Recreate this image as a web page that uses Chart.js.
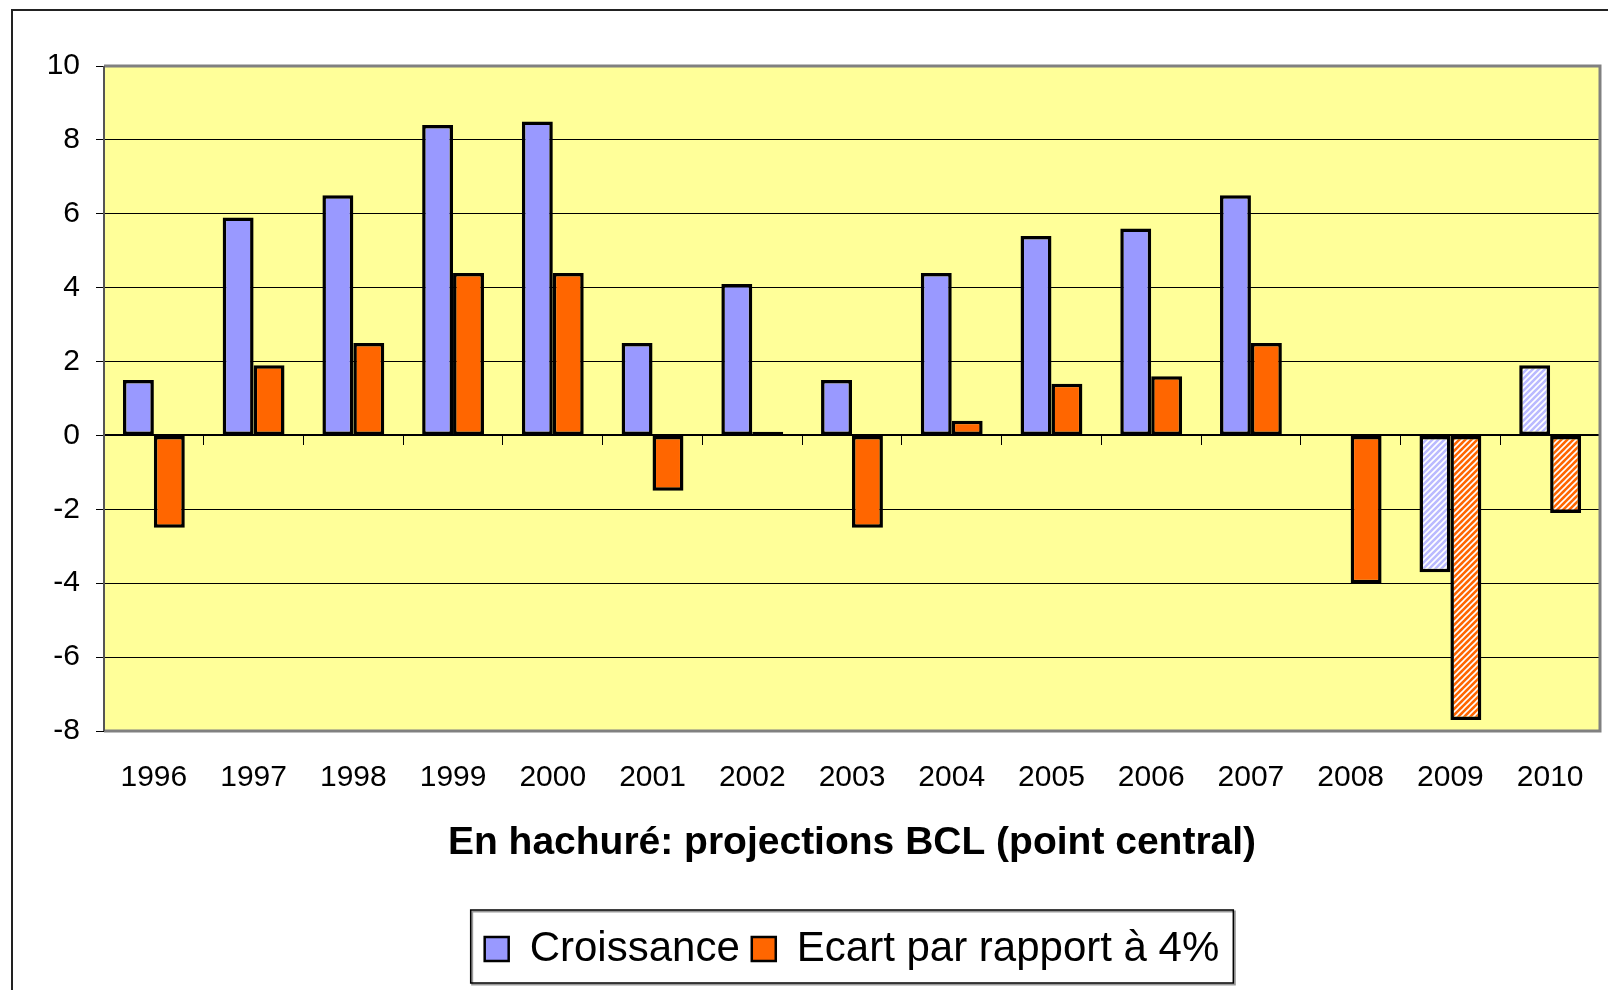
<!DOCTYPE html>
<html>
<head>
<meta charset="utf-8">
<script src="https://cdn.jsdelivr.net/npm/chart.js@4/dist/chart.umd.min.js"></script>
<style>
  html, body { margin: 0; padding: 0; background: #fff; }
  #wrap { width: 1608px; height: 990px; position: relative; }
</style>
</head>
<body>
<div id="wrap"><canvas id="c" width="1608" height="990"></canvas></div>
<script>
const categories = ['1996','1997','1998','1999','2000','2001','2002','2003','2004','2005','2006','2007','2008','2009','2010'];
const croissance = [1.5, 5.9, 6.5, 8.4, 8.5, 2.5, 4.1, 1.5, 4.4, 5.4, 5.6, 6.5, 0, -3.7, 1.9];
const ecart = [-2.5, 1.9, 2.5, 4.4, 4.4, -1.5, 0.1, -2.5, 0.4, 1.4, 1.6, 2.5, -4.0, -7.7, -2.1];
const projectedYears = ['2009', '2010'];
const seriesNames = ['Croissance', 'Ecart par rapport à 4%'];
const yMin = -8, yMax = 10, yStep = 2;
const xTitle = 'En hachuré: projections BCL (point central)';

const FONT = "'Liberation Sans', Arial, sans-serif";
const BLUE = '#9999FF', ORANGE = '#FF6600';

function makeHatch(base, stripe, lw) {
  const s = 6;
  const c = document.createElement('canvas');
  c.width = s; c.height = s;
  const g = c.getContext('2d');
  g.fillStyle = base; g.fillRect(0, 0, s, s);
  g.strokeStyle = stripe; g.lineWidth = lw; g.lineCap = 'square';
  g.beginPath();
  g.moveTo(-1, 1); g.lineTo(1, -1);
  g.moveTo(0, s); g.lineTo(s, 0);
  g.moveTo(s - 1, s + 1); g.lineTo(s + 1, s - 1);
  g.stroke();
  return document.getElementById('c').getContext('2d').createPattern(c, 'repeat');
}
const blueHatch = makeHatch('#ffffff', '#babaff', 2.6);
const orangeHatch = makeHatch(ORANGE, '#ffffff', 1.6);

function fillFor(solid, hatch) {
  return (ctx) => {
    if (ctx.type === 'data' && projectedYears.includes(categories[ctx.dataIndex])) return hatch;
    return solid;
  };
}

const framePlugin = {
  id: 'frame',
  beforeDraw(chart) {
    const {ctx, chartArea: a} = chart;
    ctx.save();
    ctx.fillStyle = '#FFFF99';
    ctx.fillRect(a.left, a.top, a.right - a.left, a.bottom - a.top);
    ctx.strokeStyle = '#222';
    ctx.lineWidth = 2;
    ctx.strokeRect(12, 10, chart.width + 20, chart.height + 20);
    ctx.restore();
  },
  beforeDatasetsDraw(chart) {
    const {ctx, chartArea: a} = chart;
    ctx.save();
    ctx.strokeStyle = '#808080';
    ctx.lineWidth = 3;
    ctx.beginPath();
    ctx.moveTo(a.left, a.top); ctx.lineTo(a.right, a.top);
    ctx.lineTo(a.right, a.bottom); ctx.lineTo(a.left, a.bottom);
    ctx.stroke();
    ctx.strokeStyle = '#555';
    ctx.lineWidth = 2;
    ctx.beginPath();
    ctx.moveTo(a.left, a.top); ctx.lineTo(a.left, a.bottom);
    ctx.stroke();
    ctx.restore();
  },
  afterDraw(chart) {
    const lg = chart.legend;
    if (!lg || !lg.legendHitBoxes || !lg.legendHitBoxes.length) return;
    const hb = lg.legendHitBoxes;
    const l = Math.min(...hb.map(h => h.left)) - 14;
    const r = Math.max(...hb.map(h => h.left + h.width)) + 14;
    const t = Math.min(...hb.map(h => h.top)) - 18;
    const b = Math.max(...hb.map(h => h.top + h.height)) + 13;
    const ctx = chart.ctx;
    ctx.save();
    ctx.strokeStyle = '#999';
    ctx.lineWidth = 2;
    ctx.strokeRect(l + 1.5, t + 1.5, r - l, b - t);
    ctx.strokeStyle = '#000';
    ctx.lineWidth = 1.5;
    ctx.strokeRect(l, t, r - l, b - t);
    ctx.restore();
  }
};

new Chart(document.getElementById('c'), {
  type: 'bar',
  data: {
    labels: categories,
    datasets: [
      {
        label: seriesNames[0],
        data: croissance,
        backgroundColor: fillFor(BLUE, blueHatch),
        borderColor: '#000',
        borderWidth: (ctx) => (ctx.type === 'data' && ctx.raw === 0) ? 0 : 3.5,
        borderSkipped: false,
        categoryPercentage: 0.62,
        barPercentage: 1.0
      },
      {
        label: seriesNames[1],
        data: ecart,
        backgroundColor: fillFor(ORANGE, orangeHatch),
        borderColor: '#000',
        borderWidth: 3.5,
        borderSkipped: false,
        categoryPercentage: 0.62,
        barPercentage: 1.0
      }
    ]
  },
  options: {
    responsive: false,
    animation: false,
    devicePixelRatio: 1,
    layout: { padding: { left: 0, right: 8, top: 66, bottom: 10 } },
    plugins: {
      tooltip: { enabled: false },
      title: { display: false },
      legend: {
        position: 'bottom',
        fullSize: false,
        labels: {
          font: { family: FONT, size: 42 },
          color: '#000',
          boxWidth: 24,
          boxHeight: 24,
          padding: 12,
          generateLabels: () => [
            { text: seriesNames[0], fillStyle: BLUE, strokeStyle: '#000', lineWidth: 2.5, datasetIndex: 0 },
            { text: seriesNames[1], fillStyle: ORANGE, strokeStyle: '#000', lineWidth: 2.5, datasetIndex: 1 }
          ]
        }
      }
    },
    scales: {
      x: {
        type: 'category',
        offset: true,
        grid: { display: false, drawTicks: false },
        border: { display: false },
        ticks: { font: { family: FONT, size: 30 }, color: '#000', padding: 29, maxRotation: 0, autoSkip: false },
        title: {
          display: true,
          text: xTitle,
          color: '#000',
          font: { family: FONT, size: 39, weight: 'bold' },
          padding: { top: 0, bottom: 49 }
        },
        afterFit: (s) => { s.height = 185; s.paddingLeft = 0; s.paddingRight = 0; }
      },
      x2: {
        type: 'category',
        labels: categories,
        position: { y: 0 },
        offset: true,
        grid: { drawOnChartArea: false, offset: true, drawTicks: true, tickLength: 9, color: '#000', lineWidth: 1 },
        border: { display: true, color: '#000', width: 2 },
        ticks: { display: false },
        afterFit: (s) => { s.paddingLeft = 0; s.paddingRight = 0; }
      },
      y: {
        min: yMin,
        max: yMax,
        ticks: { stepSize: yStep, font: { family: FONT, size: 30 }, color: '#000', padding: 16 },
        grid: { color: '#000', lineWidth: 1, tickLength: 8, drawTicks: true },
        border: { display: false },
        afterFit: (s) => { s.width = 104; }
      }
    }
  },
  plugins: [framePlugin]
});
</script>
</body>
</html>
